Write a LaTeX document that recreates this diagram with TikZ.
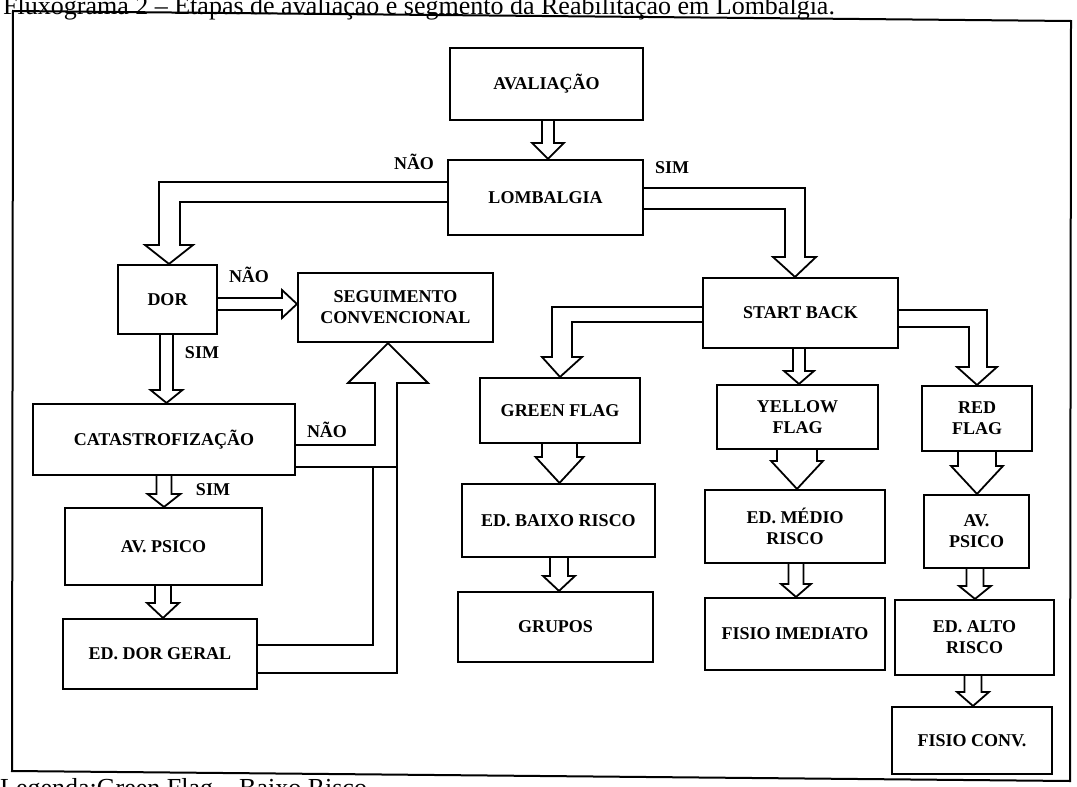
\documentclass[tikz,border=0pt]{standalone}
\usepackage{fontspec}
\setmainfont{Liberation Serif}
\usetikzlibrary{calc}
\tikzset{
  box/.style={draw, line width=2.1pt, inner sep=0pt, align=center,
    font=\fontsize{18}{21}\selectfont\bfseries},
  wh/.style 2 args={minimum width=#1pt, minimum height=#2pt},
  lab/.style={inner sep=0pt, font=\fontsize{18}{21}\selectfont\bfseries},
  blk/.style={draw, line width=1.8pt, line join=miter},
  captxt/.style={anchor=base west, inner sep=0pt, font=\fontsize{26}{30}\selectfont}
}
\newcommand\vblk[6]{%
  \pgfmathsetmacro\xsa{#3-#4}\pgfmathsetmacro\xsb{#3+#4}%
  \pgfmathsetmacro\xha{#3-#5}\pgfmathsetmacro\xhb{#3+#5}%
  \draw[blk] (\xsa,0 |- #1.south) -- ($(\xsa,0 |- #2.north)+(0,-#6)$)
    -- ($(\xha,0 |- #2.north)+(0,-#6)$) -- (#3,0 |- #2.north)
    -- ($(\xhb,0 |- #2.north)+(0,-#6)$) -- ($(\xsb,0 |- #2.north)+(0,-#6)$)
    -- (\xsb,0 |- #1.south);}
\begin{document}
\begin{tikzpicture}[x=1pt,y=-1pt]
\useasboundingbox (0,0) rectangle (1077,787);
\clip (0,0) rectangle (1077,787);
\fill[white] (0,0) rectangle (1077,787);

% caption and legend (cut by the page edge, as in the scan)
\node[captxt] (title) at (3,15) {Fluxograma 2 – Etapas de avaliação e segmento da Reabilitação em Lombalgia.};
\node[captxt] (legend) at (0,796) {Legenda:Green Flag – Baixo Risco};

% frame
\draw[line width=2pt] (13,11) -- (1071,21) -- (1070,781) -- (12,771) -- cycle;

% boxes
\node[box, wh={193}{72}] (ava) at (546.5,84) {AVALIAÇÃO};
\node[box, wh={195}{75}] (lomb) at (545.5,197.5) {LOMBALGIA};
\node[box, wh={99}{69}] (dor) at (167.5,299.5) {DOR};
\node[box, wh={195}{69}] (seg) at (395.5,307.5) {SEGUIMENTO\\CONVENCIONAL};
\node[box, wh={262}{71}] (cat) at (164,439.5) {CATASTROFIZAÇÃO};
\node[box, wh={197}{77}] (avp) at (163.5,546.5) {AV. PSICO};
\node[box, wh={194}{70}] (edg) at (160,654) {ED. DOR GERAL};
\node[box, wh={195}{70}] (sb) at (800.5,313) {START BACK};
\node[box, wh={160}{65}] (gf) at (560,410.5) {GREEN FLAG};
\node[box, wh={161}{64}] (yf) at (797.5,417) {YELLOW\\FLAG};
\node[box, wh={110}{65}] (rf) at (977,418.5) {RED\\FLAG};
\node[box, wh={193}{73}] (edb) at (558.5,520.5) {ED. BAIXO RISCO};
\node[box, wh={180}{73}] (edm) at (795,526.5) {ED. MÉDIO\\RISCO};
\node[box, wh={105}{73}] (avp2) at (976.5,531.5) {AV.\\PSICO};
\node[box, wh={195}{70}] (grp) at (555.5,627) {GRUPOS};
\node[box, wh={180}{72}] (fim) at (795,634) {FISIO IMEDIATO};
\node[box, wh={159}{75}] (eda) at (974.5,637.5) {ED. ALTO\\RISCO};
\node[box, wh={160}{67}] (fc) at (972,740.5) {FISIO CONV.};

% labels
\node[lab] (n1) at (414,162) {NÃO};
\node[lab] (s1) at (672,168) {SIM};
\node[lab] (n2) at (249,275) {NÃO};
\node[lab] (s2) at (202,353) {SIM};
\node[lab] (n3) at (327,430) {NÃO};
\node[lab] (s3) at (213,490) {SIM};

% straight block arrows
\vblk{ava}{lomb}{548}{6}{16}{16}
\vblk{dor}{cat}{166.5}{6.5}{16}{13}
\vblk{cat}{avp}{164}{7.5}{16.5}{13}
\vblk{avp}{edg}{163}{8}{16}{15}
\vblk{sb}{yf}{799}{6}{15}{13}
\vblk{gf}{edb}{559.5}{17.5}{24}{26}
\vblk{yf}{edm}{797}{20}{26}{28}
\vblk{rf}{avp2}{977}{19}{26}{28}
\vblk{edb}{grp}{559}{9}{16}{15}
\vblk{edm}{fim}{796}{7.5}{15}{13}
\vblk{avp2}{eda}{975}{8.5}{16}{13}
\vblk{eda}{fc}{973}{8.5}{16}{14}

% bent block arrows
\draw[blk] (lomb.west |- 0,182) -- (159,182) -- (159,245) -- (145,245)
  -- (169,0 |- dor.north) -- (193,245) -- (180,245) -- (180,202) -- (lomb.west |- 0,202);
\draw[blk] (lomb.east |- 0,188) -- (805,188) -- (805,257) -- (816,257)
  -- (795,0 |- sb.north) -- (773,257) -- (785,257) -- (785,209) -- (lomb.east |- 0,209);
\draw[blk] (dor.east |- 0,298) -- (282,298) -- (282,290) -- (seg.west |- 0,304)
  -- (282,318) -- (282,310) -- (dor.east |- 0,310);
\draw[blk] (cat.east |- 0,445) -- (375,445) -- (375,383) -- (348,383)
  -- (388,0 |- seg.south) -- (428,383) -- (397,383) -- (397,673) -- (edg.east |- 0,673);
\draw[blk] (cat.east |- 0,467) -- (397,467);
\draw[blk] (edg.east |- 0,645) -- (373,645) -- (373,467);
\draw[blk] (sb.west |- 0,307) -- (552,307) -- (552,357) -- (542,357)
  -- (560,0 |- gf.north) -- (582,357) -- (572,357) -- (572,322) -- (sb.west |- 0,322);
\draw[blk] (sb.east |- 0,310) -- (987,310) -- (987,367) -- (997,367)
  -- (977,0 |- rf.north) -- (957,367) -- (969,367) -- (969,327) -- (sb.east |- 0,327);
\end{tikzpicture}
\end{document}
